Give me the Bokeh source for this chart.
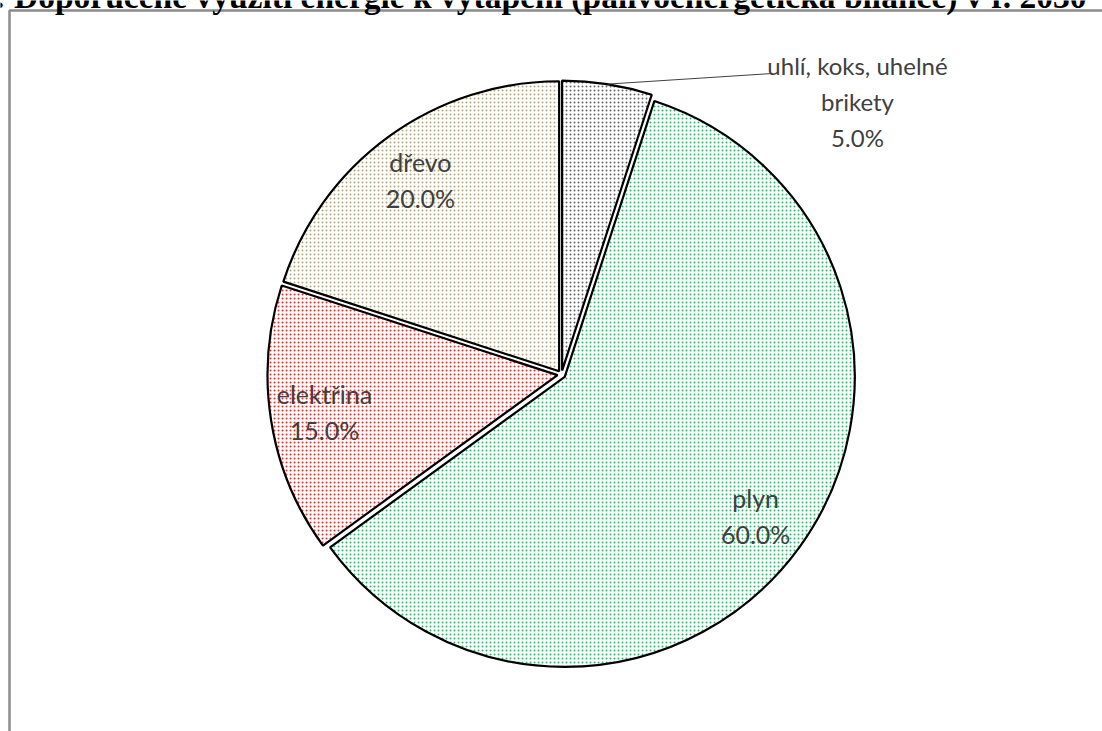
import math
from bokeh.plotting import figure
from bokeh.models import ColumnDataSource, Range1d
from bokeh.core.properties import value
from bokeh.embed import file_html
from bokeh.resources import INLINE

# ---- data ----
categories = ["uhlí, koks, uhelné brikety", "plyn", "elektřina", "dřevo"]
shares = [5.0, 60.0, 15.0, 20.0]
title_text = "Graf č. 4: Doporučené využití energie k vytápění (palivoenergetická bilance) v r. 2030"

# ---- styles / layout ----
hatch_colors = ["#4d4d4d", "#00b050", "#ff0000", "#a8996a"]
W, H = 1102, 731
CX, CY = 561, H - 374
R = 290
EXPLODE = 4
LABEL_R = 240

p = figure(width=W, height=H, x_range=Range1d(0, W), y_range=Range1d(0, H),
           output_backend="svg", toolbar_location=None, min_border=0)
p.styles = {"position": "absolute", "top": "0px", "left": "0px"}
p.axis.visible = False
p.grid.visible = False
p.outline_line_color = None
p.background_fill_color = "white"

# chart border (area frame)
p.line(x=[9, 9, W + 20], y=[-20, H - 10, H - 10], line_color="#8c8c8c", line_width=2.5)

# title (partly above the visible page)
p.text(x=[1086], y=[H + 4], text=[title_text], text_align="right", text_baseline="middle",
       text_font=value("Liberation Serif"), text_font_style="bold", text_font_size="33.5px",
       text_color="black")

total = sum(shares)
starts, ends, cxs, cys, lx, ly, labels = [], [], [], [], [], [], []
cum = 0.0
for name, v in zip(categories, shares):
    frac = v / total
    a0 = math.pi / 2 - cum * 2 * math.pi
    a1 = math.pi / 2 - (cum + frac) * 2 * math.pi
    mid = math.pi / 2 - (cum + frac / 2) * 2 * math.pi
    starts.append(a0)
    ends.append(a1)
    cxs.append(CX + EXPLODE * math.cos(mid))
    cys.append(CY + EXPLODE * math.sin(mid))
    lx.append(CX + LABEL_R * math.cos(mid))
    ly.append(CY + LABEL_R * math.sin(mid))
    labels.append(f"{name}\n{v:.1f}%")
    cum += frac

src = ColumnDataSource(dict(x=cxs, y=cys, start=starts, end=ends, hc=hatch_colors))
p.wedge(x="x", y="y", radius=R, start_angle="start", end_angle="end", direction="clock",
        source=src, fill_color="white", line_color="black", line_width=2.2,
        hatch_pattern="dot", hatch_color="hc", hatch_scale=4, hatch_weight=1, hatch_alpha=0.85)

# inside labels (all but the small coal slice)
lab_src = ColumnDataSource(dict(x=lx[1:], y=ly[1:], t=labels[1:]))
p.text(x="x", y="y", text="t", source=lab_src, text_align="center", text_baseline="middle",
       text_font=value("Lato"), text_font_size="25px", text_color="#404040", text_line_height=1.2)

# coal slice: outside label with leader line
coal_mid = math.pi / 2 - (shares[0] / total / 2) * 2 * math.pi
ex = cxs[0] + R * math.cos(coal_mid)
ey = cys[0] + R * math.sin(coal_mid)
p.line(x=[ex, 772], y=[ey, H - 73], line_color="#404040", line_width=1)
coal_label = "uhlí, koks, uhelné\nbrikety\n" + f"{shares[0]:.1f}%"
p.text(x=[857], y=[H - 101], text=[coal_label], text_align="center", text_baseline="middle",
       text_font=value("Lato"), text_font_size="24px", text_color="#404040", text_line_height=1.25)

open("out.html", "w").write(file_html(p, INLINE))
